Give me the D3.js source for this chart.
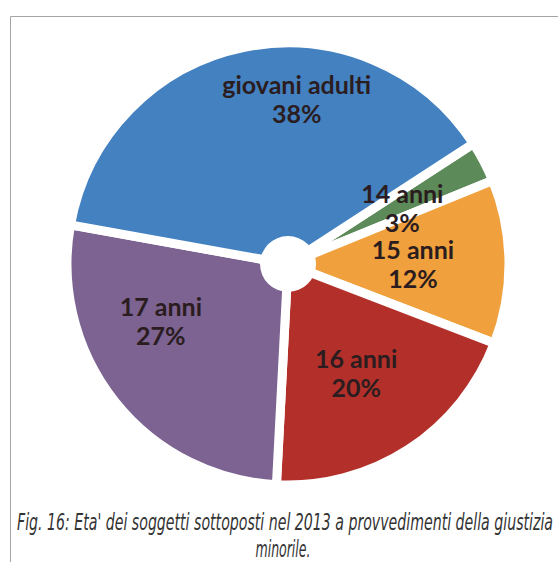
<!DOCTYPE html>
<html>
<head>
<meta charset="utf-8">
<script src="https://cdn.jsdelivr.net/npm/d3@7"></script>
<style>
  body { margin: 0; background: #fff; }
</style>
</head>
<body>
<div id="chart"></div>
<script>
// data
const categories = ["14 anni", "15 anni", "16 anni", "17 anni", "giovani adulti"];
const values = [3, 12, 20, 27, 38];
const colors = ["#5c8a59", "#f0a03c", "#b3302a", "#7c6391", "#4381c1"];
const caption = ["Fig. 16: Eta' dei soggetti sottoposti nel 2013 a provvedimenti della giustizia", "minorile."];

// layout
const W = 558, H = 562;
const cx = 288, cy = 264, R = 221;
const startDeg = 57;
// label nudges from the arc centroid (px)
const nudge = [[-8, 3], [-13, -4], [-7, -12], [-19, -34], [36, -35]];

const svg = d3.select("#chart").append("svg")
    .attr("width", W).attr("height", H);

// frame
svg.append("path")
    .attr("d", "M10.5,562 L10.5,16.5 L558,16.5")
    .attr("fill", "none")
    .attr("stroke", "#a5a5a5")
    .attr("stroke-width", 1);

let data = categories.map((c, i) => ({ name: c, value: values[i], color: colors[i], i: i }));

let pie = d3.pie()
    .value(d => d.value)
    .sort(null)
    .startAngle(startDeg * Math.PI / 180)
    .endAngle((startDeg + 360) * Math.PI / 180);

let arc = d3.arc().innerRadius(0).outerRadius(R);
let labelArc = d3.arc().innerRadius(138).outerRadius(138);

let g = svg.append("g").attr("transform", "translate(" + cx + "," + cy + ")");

g.selectAll("path.slice")
    .data(pie(data))
    .join("path")
    .attr("class", "slice")
    .attr("d", arc)
    .attr("fill", d => d.data.color)
    .attr("stroke", "#fff")
    .attr("stroke-width", 9)
    .attr("stroke-linejoin", "round");

g.append("circle")
    .attr("r", 28)
    .attr("fill", "#fff");

// labels
let labels = g.selectAll("text.lbl")
    .data(pie(data))
    .join("text")
    .attr("class", "lbl")
    .attr("text-anchor", "middle")
    .style("font-family", "Lato, 'Open Sans', sans-serif")
    .style("font-weight", "bold")
    .style("font-size", "25px")
    .attr("fill", "#2b1d1f")
    .attr("transform", d => {
        let c = labelArc.centroid(d);
        let n = nudge[d.data.i];
        return "translate(" + (c[0] + n[0]) + "," + (c[1] + n[1]) + ")";
    });

labels.append("tspan").attr("x", 0).attr("y", 0).text(d => d.data.name);
labels.append("tspan").attr("x", 0).attr("y", 29).text(d => d.data.value + "%");

// caption
svg.append("text")
    .attr("x", 17).attr("y", 530)
    .attr("textLength", 536)
    .attr("lengthAdjust", "spacingAndGlyphs")
    .style("font-family", "'Liberation Sans Narrow', 'DejaVu Sans Condensed', sans-serif")
    .style("font-style", "italic")
    .style("font-size", "23px")
    .attr("fill", "#333")
    .text(caption[0]);

svg.append("text")
    .attr("x", 283).attr("y", 557)
    .attr("text-anchor", "middle")
    .attr("textLength", 55)
    .attr("lengthAdjust", "spacingAndGlyphs")
    .style("font-family", "'Liberation Sans Narrow', 'DejaVu Sans Condensed', sans-serif")
    .style("font-style", "italic")
    .style("font-size", "23px")
    .attr("fill", "#333")
    .text(caption[1]);
</script>
</body>
</html>
